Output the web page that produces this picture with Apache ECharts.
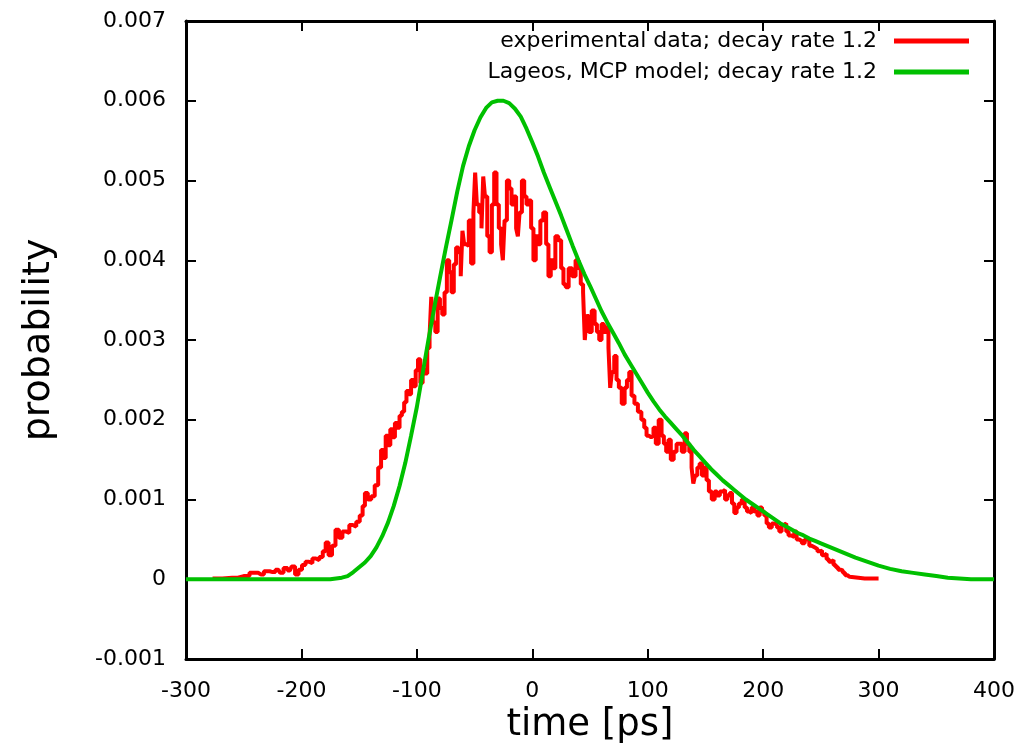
<!DOCTYPE html>
<html>
<head>
<meta charset="utf-8">
<script src="https://cdn.jsdelivr.net/npm/echarts@6/dist/echarts.min.js"></script>
<style>html,body{margin:0;padding:0;background:#fff;}#c{width:1021px;height:749px;}</style>
</head>
<body>
<div id="c"></div>
<script>
// ---- data ----
const seriesNames = ['experimental data; decay rate 1.2', 'Lageos, MCP model; decay rate 1.2'];
const xTicks = [-300, -200, -100, 0, 100, 200, 300, 400];
const yTicks = [-0.001, 0, 0.001, 0.002, 0.003, 0.004, 0.005, 0.006, 0.007];

// experimental data: [time ps, probability]
const experimental = [
[-277,0.00001],[-260,0.00002],[-250,0.00004],[-240,0.00008],[-235,0.00006],[-230,0.0001],[-225,0.00009],[-220,0.00012],[-217,0.00008],[-214,0.00014],[-210,0.00011],[-207,0.00016],[-204,0.00006],[-201,0.00012],[-198,0.00018],[-195,0.00022],[-192,0.0002],[-189,0.00026],[-186,0.00024],[-183,0.00028],[-180,0.00035],[-178,0.00046],[-175,0.0003],[-172,0.00042],[-169,0.00062],[-166,0.00052],[-163,0.0006],[-160,0.00058],[-157,0.00068],[-154,0.00066],[-151,0.00072],[-148,0.0008],[-146,0.00092],[-144,0.00108],[-141,0.001],[-138,0.00104],[-135,0.00118],[-132,0.0014],[-130,0.00162],[-128,0.00152],[-126,0.0018],[-124,0.00168],[-122,0.00188],[-120,0.00178],[-118,0.00196],[-116,0.0019],[-114,0.00205],[-112,0.0021],[-110,0.00222],[-108,0.00236],[-106,0.00232],[-104,0.0025],[-102,0.00242],[-100,0.00262],[-98,0.00276],[-96,0.00246],[-94,0.00262],[-92,0.00258],[-90,0.0029],[-88,0.00305],[-87,0.00354],[-85,0.00322],[-83,0.0031],[-81,0.00352],[-79,0.0034],[-77,0.00332],[-75,0.0036],[-73,0.004],[-71,0.00385],[-69,0.0036],[-67,0.00395],[-65,0.00416],[-63,0.0041],[-61,0.0038],[-60,0.00437],[-58,0.0042],[-56,0.00418],[-54,0.0045],[-52,0.00396],[-50,0.0046],[-49,0.0051],[-47,0.0047],[-45,0.0046],[-43,0.0044],[-42,0.00505],[-40,0.0048],[-38,0.0043],[-36,0.0041],[-34,0.0047],[-32,0.0051],[-30,0.0047],[-28,0.0044],[-26,0.0042],[-25,0.004],[-23,0.0045],[-21,0.005],[-19,0.0049],[-17,0.0047],[-15,0.0048],[-13,0.0044],[-12,0.0043],[-10,0.0046],[-8,0.005],[-6,0.0048],[-4,0.0047],[-2,0.00475],[0,0.0044],[2,0.004],[4,0.0043],[6,0.0042],[8,0.0045],[11,0.0046],[13,0.0042],[15,0.0038],[17,0.004],[19,0.0039],[21,0.0043],[24,0.00425],[26,0.0039],[28,0.0037],[30,0.00366],[33,0.0039],[36,0.0038],[39,0.004],[41,0.0039],[43,0.0037],[45,0.0036],[46,0.003],[48,0.0033],[50,0.0031],[53,0.00337],[55,0.0032],[57,0.0031],[59,0.003],[61,0.0032],[63,0.0031],[65,0.00316],[67,0.0029],[68,0.0024],[70,0.0026],[72,0.0028],[74,0.0025],[76,0.0024],[79,0.0022],[81,0.0024],[83,0.0025],[85,0.0026],[87,0.0023],[90,0.0022],[93,0.0021],[96,0.002],[98,0.0019],[100,0.0018],[102,0.00178],[104,0.0018],[106,0.0019],[108,0.0017],[111,0.002],[113,0.0018],[115,0.0017],[117,0.0016],[119,0.00175],[121,0.0015],[124,0.0016],[126,0.0017],[128,0.0017],[131,0.0016],[133,0.00183],[135,0.0017],[137,0.0016],[139,0.0014],[140,0.0012],[142,0.0013],[144,0.0014],[146,0.00145],[148,0.0013],[150,0.0014],[152,0.00124],[154,0.0011],[157,0.001],[159,0.0011],[161,0.00105],[164,0.0011],[166,0.00112],[168,0.001],[170,0.00105],[172,0.00108],[174,0.00095],[176,0.00083],[178,0.0009],[180,0.00095],[183,0.001],[185,0.0009],[187,0.00085],[189,0.00083],[191,0.0009],[194,0.00085],[196,0.0008],[198,0.0009],[200,0.00085],[202,0.0008],[204,0.0007],[206,0.00065],[209,0.0007],[211,0.00068],[213,0.00065],[215,0.0006],[217,0.00068],[219,0.0007],[221,0.0006],[223,0.00055],[226,0.00053],[228,0.0006],[230,0.0005],[232,0.00048],[235,0.00045],[237,0.0005],[239,0.0005],[241,0.00042],[243,0.0004],[246,0.00038],[248,0.00035],[250,0.00036],[252,0.0003],[254,0.00032],[256,0.00025],[258,0.00022],[260,0.00024],[262,0.00018],[264,0.00015],[266,0.00012],[268,0.00011],[270,0.00008],[272,0.00005],[274,0.00003],[276,0.00001],[300,0.00001]
];

// model curve: [time ps, probability]
const model = [
[-300,0],[-175,0],[-165,0.00002],[-160,0.00004],[-155,0.00009],[-150,0.00015],[-145,0.00021],[-140,0.00029],[-135,0.0004],[-130,0.00054],[-125,0.00071],[-120,0.00092],[-115,0.00117],[-110,0.00146],[-105,0.0018],[-100,0.00216],[-95,0.00258],[-90,0.003],[-85,0.0034],[-80,0.00378],[-75,0.00415],[-70,0.0045],[-65,0.00486],[-60,0.00518],[-55,0.00543],[-50,0.00563],[-45,0.00579],[-40,0.00591],[-35,0.00598],[-30,0.006],[-25,0.006],[-20,0.00597],[-15,0.0059],[-10,0.0058],[-5,0.00565],[0,0.00548],[5,0.0053],[10,0.0051],[15,0.00492],[20,0.00474],[25,0.00456],[30,0.00437],[35,0.00418],[40,0.004],[45,0.00383],[50,0.00368],[55,0.00352],[60,0.00336],[65,0.00322],[70,0.00309],[75,0.00296],[80,0.00282],[85,0.0027],[90,0.00258],[95,0.00246],[100,0.00234],[105,0.00223],[110,0.00213],[115,0.00204],[120,0.00196],[125,0.00188],[130,0.0018],[135,0.00171],[140,0.00162],[145,0.00154],[150,0.00146],[155,0.00138],[160,0.00131],[165,0.00124],[170,0.00118],[175,0.00112],[180,0.00106],[185,0.001],[190,0.00095],[195,0.0009],[200,0.00085],[205,0.0008],[210,0.00075],[215,0.0007],[220,0.00066],[225,0.00062],[230,0.00058],[235,0.00055],[240,0.00051],[245,0.00048],[250,0.00045],[260,0.00039],[270,0.00033],[280,0.00027],[290,0.00022],[300,0.00017],[310,0.00013],[320,0.0001],[330,0.00008],[340,0.00006],[350,0.00004],[360,0.00002],[370,0.00001],[380,0],[400,0]
];

// ---- chart ----
const FONT = 'DejaVu Sans';
const chart = echarts.init(document.getElementById('c'), null, {renderer: 'canvas'});
const axisLine = {show: true, onZero: false, lineStyle: {color: '#000', width: 3}};
const tick = {show: true, inside: true, length: 10, lineStyle: {color: '#000', width: 2}};
const xMin = xTicks[0], xMax = xTicks[xTicks.length - 1], xInt = xTicks[1] - xTicks[0];
const yMin = yTicks[0], yMax = yTicks[yTicks.length - 1], yInt = 0.001;
const yFmt = v => Math.abs(v) < 1e-9 ? '0' : v.toFixed(3);

chart.setOption({
  backgroundColor: '#fff',
  animation: false,
  grid: {left: 186, right: 27, top: 21, bottom: 90, containLabel: false},
  legend: {
    orient: 'vertical', align: 'right', right: 47, top: 25,
    icon: 'rect', itemWidth: 75, itemHeight: 5, itemGap: 9,
    textStyle: {fontFamily: FONT, fontSize: 22, color: '#000', padding: [0, 12, 0, 0]},
    data: seriesNames
  },
  xAxis: [
    {type: 'value', position: 'bottom', min: xMin, max: xMax, interval: xInt,
     axisLine: axisLine, axisTick: tick, splitLine: {show: false},
     axisLabel: {fontFamily: FONT, fontSize: 22, color: '#000', margin: 21},
     name: 'time [ps]', nameLocation: 'middle', nameGap: 46,
     nameTextStyle: {fontFamily: FONT, fontSize: 37, color: '#000'}},
    {type: 'value', position: 'top', min: xMin, max: xMax, interval: xInt,
     axisLine: axisLine, axisTick: tick, splitLine: {show: false}, axisLabel: {show: false}}
  ],
  yAxis: [
    {type: 'value', position: 'left', min: yMin, max: yMax, interval: yInt,
     axisLine: axisLine, axisTick: tick, splitLine: {show: false},
     axisLabel: {fontFamily: FONT, fontSize: 22, color: '#000', margin: 20, formatter: yFmt},
     name: 'probability', nameLocation: 'middle', nameGap: 128, nameRotate: 90,
     nameTextStyle: {fontFamily: FONT, fontSize: 38, color: '#000'}},
    {type: 'value', position: 'right', min: yMin, max: yMax, interval: yInt,
     axisLine: axisLine, axisTick: tick, splitLine: {show: false}, axisLabel: {show: false}}
  ],
  series: [
    {name: seriesNames[0], type: 'line', data: experimental, step: 'middle',
     showSymbol: false, symbol: 'none', lineStyle: {color: '#ff0000', width: 4}, itemStyle: {color: '#ff0000'}},
    {name: seriesNames[1], type: 'line', data: model,
     showSymbol: false, symbol: 'none', lineStyle: {color: '#00c000', width: 4}, itemStyle: {color: '#00c000'}}
  ]
});
</script>
</body>
</html>
